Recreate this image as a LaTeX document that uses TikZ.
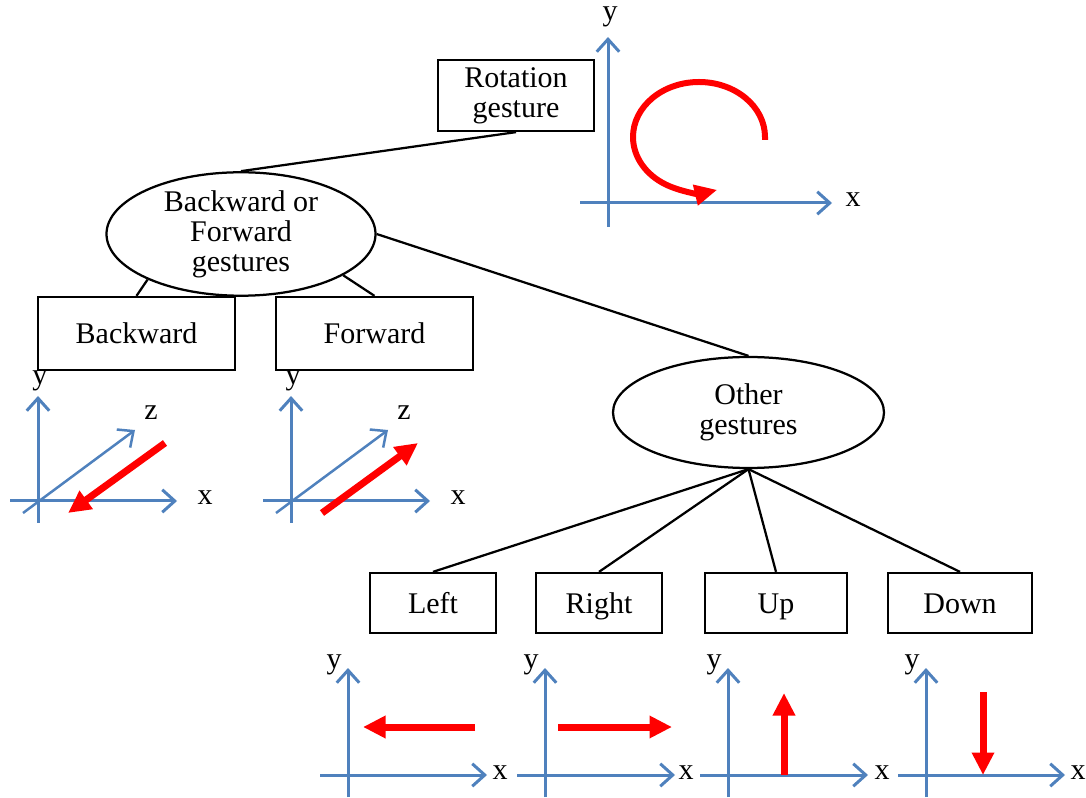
\documentclass[tikz,border=0pt]{standalone}
\usepackage{fontspec}
\setmainfont{Liberation Serif}
\usetikzlibrary{arrows.meta,shapes.geometric}
\definecolor{AxisBlue}{HTML}{4F81BD}
\definecolor{MoveRed}{HTML}{FF0000}

\begin{document}
\begin{tikzpicture}[x=0.4pt, y=-0.4pt, font=\fontsize{12}{12}\selectfont,
  gbox/.style={draw, line width=0.9pt, inner sep=0pt, minimum height=24pt, align=center},
  gword/.style={gbox, text height=10pt, text depth=1.6pt},
  goval/.style={draw, ellipse, line width=0.9pt, inner sep=0pt, align=center},
  glink/.style={line width=0.9pt},
  gaxis/.style={AxisBlue, line width=1.2pt, -{Straight Barb[length=5pt,width=9pt]}},
  gmove/.style={MoveRed, line width=2.8pt, -{Triangle[length=9pt,width=8.5pt]}},
  glbl/.style={inner sep=0pt}]
  \useasboundingbox (0,0) rectangle (1086,798);

  % tree
  \node[gbox, minimum width=62.4pt, minimum height=28.4pt] (rot) at (516,95.5) {Rotation\\gesture};
  \node[goval, minimum width=107.6pt, minimum height=43.2pt] (bf) at (241,234) {Backward or\\Forward\\gestures};
  \node[gword, minimum width=78.8pt, minimum height=29.2pt] (back) at (136.5,333.5) {Backward};
  \node[gword, minimum width=78.8pt, minimum height=29.2pt] (fwd) at (374.5,333.5) {Forward};
  \node[goval, minimum width=108.4pt, minimum height=44.4pt] (other) at (748.5,412.5) {Other\\gestures};
  \node[gword, minimum width=50.4pt] (left) at (433,603) {Left};
  \node[gword, minimum width=50.4pt] (right) at (599,603) {Right};
  \node[gword, minimum width=56.8pt] (up) at (776,603) {Up};
  \node[gword, minimum width=57.6pt] (down) at (960,603) {Down};

  \draw[glink] (rot.south) -- (bf.north);
  \draw[glink] (bf.206) -- (back.north);
  \draw[glink] (bf.-22) -- (fwd.north);
  \draw[glink] (bf.east) -- (other.north);
  \foreach \child in {left,right,up,down}
    \draw[glink] (other.south) -- (\child.north);

  % rotation axes
  \draw[gaxis] (608,227) -- (608,37);
  \draw[gaxis] (580,203) -- (832,203);
  \node[glbl] (roty) at (610,17) {y};
  \node[glbl] (rotx) at (853,200) {x};
  \draw[MoveRed, line width=2.4pt, -{Triangle[length=9pt,width=8pt]}]
    (765,140) -- (765,137) arc[start angle=0, end angle=-286, x radius=66, y radius=55];

  % backward / forward axes
  \foreach \ox/\nm in {38/b,291/f} {
    \draw[gaxis] (\ox,523) -- (\ox,396);
    \draw[gaxis] ({\ox-28},501) -- ({\ox+139},501);
    \draw[gaxis, line width=1pt] ({\ox-15},513) -- ({\ox+97},430);
    \node[glbl] (\nm y) at ({\ox+2},381) {y};
    \node[glbl] (\nm x) at ({\ox+167},498) {x};
    \node[glbl] (\nm z) at ({\ox+113},413) {z};
  }
  \draw[gmove] (165,443) -- (68,513);
  \draw[gmove] (322,513) -- (418,443);

  % left / right / up / down axes
  \foreach \ox/\xe/\xl/\nm in {348/487/500/l,545/675/686/r,728/868/882/u,926/1065/1078/d} {
    \draw[gaxis] (\ox,797) -- (\ox,668);
    \draw[gaxis] ({\ox-28},775) -- (\xe,775);
    \node[glbl] (\nm y) at ({\ox-14},665) {y};
    \node[glbl] (\nm x) at (\xl,773) {x};
  }
  \draw[gmove] (475,727) -- (363,727);
  \draw[gmove] (558,727) -- (672,727);
  \draw[gmove] (784,775) -- (784,693);
  \draw[gmove] (983,692) -- (983,775);
\end{tikzpicture}
\end{document}
